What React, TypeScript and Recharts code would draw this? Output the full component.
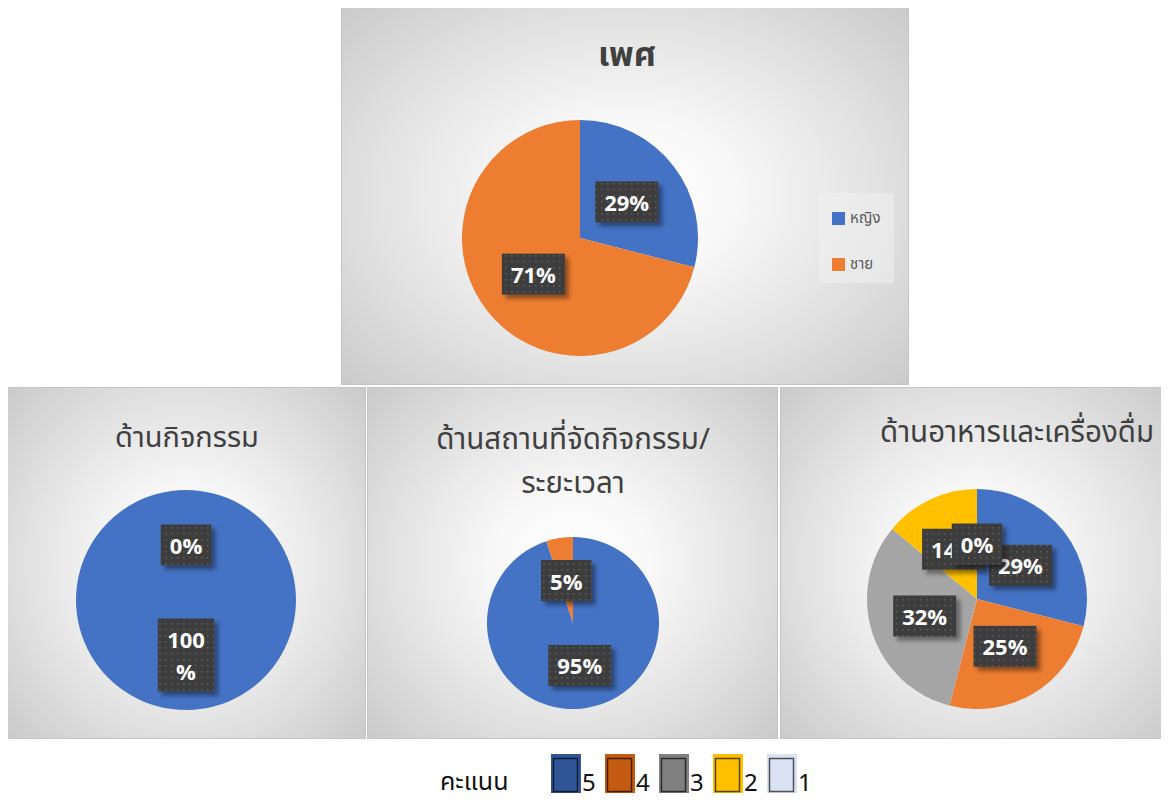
import React from 'react';
import { PieChart, Pie, Cell, Legend } from 'recharts';

// score categories shared by the three bottom charts
const SCORE_LABELS = ['5', '4', '3', '2', '1'];
const SLICE_COLORS = ['#4472C4', '#ED7D31', '#A5A5A5', '#FFC000', '#5B9BD5'];
const KEY_COLORS = ['#2F5597', '#C55A11', '#808080', '#FFC000', '#DAE3F3'];

const GENDER_NAMES = ['หญิง', 'ชาย'];
const GENDER_VALUES = [29, 71];

const ACTIVITY_VALUES = [100, 0];
const VENUE_VALUES = [95, 5];
const FOOD_VALUES = [29, 25, 32, 14, 0];

const LEGEND_TITLE = 'คะแนน';

const THAI_FONT = "'Noto Sans Thai', 'Leelawadee UI', Tahoma, 'Noto Sans', sans-serif";
const LABEL_FONT = "'Open Sans', Lato, sans-serif";
const RADIAN = Math.PI / 180;

const toData = (names: string[], values: number[]) =>
    values.map((v, i) => ({ name: names[i], value: v }));

const PANEL_BG =
    'radial-gradient(ellipse 68% 72% at 50% 50%, #ffffff 0%, #f8f8f8 28%, #e4e4e4 62%, #cbcbcb 100%)';

const renderLabel = (props: any) => {
    const { cx, cy, midAngle, outerRadius, value } = props;
    const r = outerRadius * 0.5;
    const x = cx + r * Math.cos(-midAngle * RADIAN);
    const y = cy + r * Math.sin(-midAngle * RADIAN);
    const lines = value >= 100 ? [String(value), '%'] : [`${value}%`];
    const longest = lines.reduce((a, b) => (b.length > a.length ? b : a), '');
    const digits = longest.replace('%', '').length;
    const w = digits * 12.5 + (longest.includes('%') ? 19 : 0) + 19;
    const h = lines.length === 1 ? 41 : 73;
    return (
        <g>
            <rect x={x - w / 2} y={y - h / 2} width={w} height={h} fill="url(#lblDots)" filter="url(#lblShadow)" />
            {lines.map((ln, i) => (
                <text
                    key={i}
                    x={x}
                    y={y - ((lines.length - 1) * 32) / 2 + i * 32}
                    textAnchor="middle"
                    dominantBaseline="central"
                    fill="#ffffff"
                    fontFamily={LABEL_FONT}
                    fontWeight={700}
                    fontSize={22}
                >
                    {ln}
                </text>
            ))}
        </g>
    );
};

// legend of the gender chart, kept in the data order (หญิง first)
const GenderLegend = () => (
    <div style={{ width: 75, height: 90, background: 'rgba(240,240,240,0.55)', paddingTop: 14, boxSizing: 'border-box' }}>
        {GENDER_NAMES.map((n, i) => (
            <div key={n} style={{ display: 'flex', alignItems: 'center', height: 22, marginBottom: 24, paddingLeft: 13 }}>
                <span style={{ width: 13, height: 13, background: SLICE_COLORS[i], display: 'inline-block', marginRight: 5 }} />
                <span style={{ fontFamily: THAI_FONT, fontSize: 15, color: '#595959' }}>{n}</span>
            </div>
        ))}
    </div>
);

type PanelProps = {
    left: number;
    top: number;
    width: number;
    height: number;
    title: string[];
    titleX: number;
    titleY: number;
    titleSize: number;
    titleGap?: number;
    bold?: boolean;
    data: { name: string; value: number }[];
    cx: number;
    cy: number;
    r: number;
    legend?: boolean;
};

const Panel: React.FC<PanelProps> = (p) => (
    <div
        style={{
            position: 'absolute',
            left: p.left,
            top: p.top,
            width: p.width,
            height: p.height,
            background: PANEL_BG,
            border: '1px solid #c4c4c4',
            boxSizing: 'border-box',
            overflow: 'hidden',
        }}
    >
        {p.title.map((t, i) => (
            <div
                key={i}
                style={{
                    position: 'absolute',
                    left: p.titleX - 250,
                    width: 500,
                    top: p.titleY + i * (p.titleGap || 0) - p.titleSize * 0.7,
                    textAlign: 'center',
                    fontFamily: THAI_FONT,
                    fontSize: p.titleSize,
                    fontWeight: p.bold ? 700 : 400,
                    lineHeight: `${p.titleSize * 1.4}px`,
                    color: '#404040',
                    whiteSpace: 'nowrap',
                }}
            >
                {t}
            </div>
        ))}
        <div style={{ position: 'absolute', left: -1, top: -1 }}>
            <PieChart width={p.width} height={p.height} margin={{ top: 0, right: 0, bottom: 0, left: 0 }}>
                <Pie
                    data={p.data}
                    dataKey="value"
                    nameKey="name"
                    cx={p.cx}
                    cy={p.cy}
                    outerRadius={p.r}
                    startAngle={90}
                    endAngle={-270}
                    stroke="none"
                    label={renderLabel}
                    labelLine={false}
                    isAnimationActive={false}
                >
                    {p.data.map((_, i) => (
                        <Cell key={`c-${i}`} fill={SLICE_COLORS[i]} />
                    ))}
                </Pie>
                {p.legend && (
                    <Legend
                        layout="vertical"
                        align="right"
                        verticalAlign="middle"
                        wrapperStyle={{ left: 478, top: 186, width: 75, right: 'auto', bottom: 'auto' }}
                        content={<GenderLegend />}
                    />
                )}
            </PieChart>
        </div>
    </div>
);

const ScoreKey = () => (
    <div style={{ position: 'absolute', left: 440, top: 754, height: 47, display: 'flex', alignItems: 'center' }}>
        <span style={{ fontFamily: THAI_FONT, fontSize: 25, color: '#111', width: 111, marginTop: 8 }}>{LEGEND_TITLE}</span>
        {SCORE_LABELS.map((s, i) => (
            <div key={s} style={{ display: 'flex', alignItems: 'center', width: 54 }}>
                <svg width={30} height={47} style={{ display: 'block' }}>
                    <rect x={0} y={0} width={30} height={47} fill={KEY_COLORS[i]} />
                    <rect x={2.5} y={4.5} width={24} height={33} fill="none" stroke="rgba(0,0,0,0.65)" strokeWidth={1.5} />
                </svg>
                <span style={{ fontFamily: "'Noto Sans', sans-serif", fontSize: 24, color: '#111', marginLeft: 1, marginTop: 8 }}>{s}</span>
            </div>
        ))}
    </div>
);

const App: React.FC = () => {
    return (
        <div style={{ position: 'relative', width: 1169, height: 801, margin: -8, background: '#ffffff', overflow: 'hidden' }}>
            <svg width={0} height={0} style={{ position: 'absolute' }}>
                <defs>
                    <pattern id="lblDots" width={6} height={6} patternUnits="userSpaceOnUse">
                        <rect width={6} height={6} fill="#3d3d3d" />
                        <rect x={2} y={2} width={1.5} height={1.5} fill="#5e5e5e" />
                    </pattern>
                    <filter id="lblShadow" x="-30%" y="-30%" width="170%" height="170%">
                        <feDropShadow dx={4} dy={4} stdDeviation={2} floodColor="#000" floodOpacity={0.4} />
                    </filter>
                </defs>
            </svg>
            <Panel
                left={341}
                top={7}
                width={568}
                height={378}
                title={['เพศ']}
                titleX={285}
                titleY={48}
                titleSize={34}
                bold
                data={toData(GENDER_NAMES, GENDER_VALUES)}
                cx={239}
                cy={231}
                r={118}
                legend
            />
            <Panel
                left={7}
                top={387}
                width={359}
                height={352}
                title={['ด้านกิจกรรม']}
                titleX={179}
                titleY={50}
                titleSize={29}
                data={toData(SCORE_LABELS, ACTIVITY_VALUES)}
                cx={179}
                cy={213}
                r={110}
            />
            <Panel
                left={367}
                top={387}
                width={411}
                height={352}
                title={['ด้านสถานที่จัดกิจกรรม/', 'ระยะเวลา']}
                titleX={205}
                titleY={53}
                titleGap={44}
                titleSize={29.5}
                data={toData(SCORE_LABELS, VENUE_VALUES)}
                cx={206}
                cy={236}
                r={86}
            />
            <Panel
                left={780}
                top={387}
                width={392}
                height={352}
                title={['ด้านอาหารและเครื่องดื่ม']}
                titleX={236}
                titleY={46}
                titleSize={29.5}
                data={toData(SCORE_LABELS, FOOD_VALUES)}
                cx={197}
                cy={212}
                r={110}
            />
            <ScoreKey />
        </div>
    );
};

export default App;
